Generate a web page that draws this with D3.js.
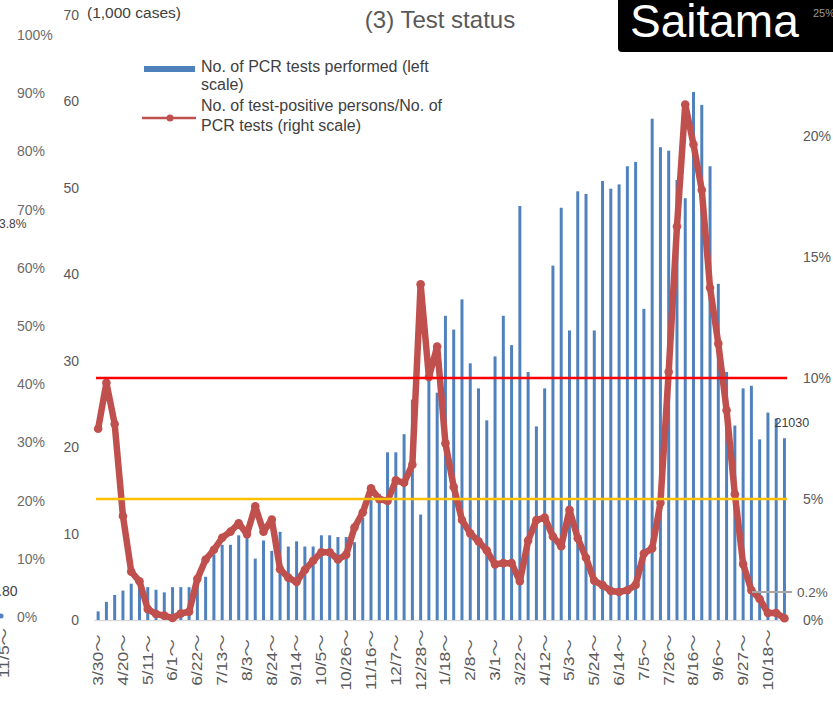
<!DOCTYPE html>
<html>
<head>
<meta charset="utf-8">
<script src="https://cdn.jsdelivr.net/npm/d3@7/dist/d3.min.js"></script>
<style>
    body { margin: 0; background: #ffffff; }
    #chart { width: 833px; height: 703px; }
    text { font-family: "Liberation Sans", Arial, "Noto Sans CJK JP", sans-serif; }
</style>
</head>
<body>
<div id="chart"></div>
<script>

// week start dates (Mon), 2020/3/30 - 2021/11/1
const weeks = [
    "3/30","4/6","4/13","4/20","4/27","5/4","5/11","5/18","5/25","6/1",
    "6/8","6/15","6/22","6/29","7/6","7/13","7/20","7/27","8/3","8/10",
    "8/17","8/24","8/31","9/7","9/14","9/21","9/28","10/5","10/12","10/19",
    "10/26","11/2","11/9","11/16","11/23","11/30","12/7","12/14","12/21","12/28",
    "1/4 ","1/11 ","1/18 ","1/25 ","2/1 ","2/8 ","2/15 ","2/22 ","3/1 ","3/8 ",
    "3/15 ","3/22 ","3/29 ","4/5 ","4/12 ","4/19 ","4/26 ","5/3 ","5/10 ","5/17 ",
    "5/24 ","5/31 ","6/7 ","6/14 ","6/21 ","6/28 ","7/5 ","7/12 ","7/19 ","7/26 ",
    "8/2 ","8/9 ","8/16 ","8/23 ","8/30 ","9/6 ","9/13 ","9/20 ","9/27 ","10/4 ",
    "10/11 ","10/18 ","10/25 ","11/1 "
];

// labelled weeks on the x axis
const tickWeeks = [
    "3/30","4/20","5/11","6/1","6/22","7/13","8/3","8/24","9/14","10/5",
    "10/26","11/16","12/7","12/28","1/18 ","2/8 ","3/1 ","3/22 ","4/12 ","5/3 ",
    "5/24 ","6/14 ","7/5 ","7/26 ","8/16 ","9/6 ","9/27 ","10/18 "
];

// PCR tests performed (1,000 cases)
const testsPerformed = [
    1.0, 2.1, 2.9, 3.4, 4.2, 4.1, 3.8, 3.5, 3.2, 3.8,
    3.8, 3.8, 4.0, 5.0, 7.6, 8.7, 8.7, 9.8, 9.9, 7.1,
    9.2, 8.0, 10.2, 8.5, 9.1, 8.5, 8.5, 9.8, 9.8, 9.6,
    9.6, 9.0, 11.8, 14.2, 14.6, 19.4, 19.4, 21.5, 25.5, 12.2,
    28.0, 26.3, 35.2, 33.6, 37.1, 29.7, 26.8, 23.1, 30.5, 35.2,
    31.8, 47.9, 28.7, 22.4, 26.8, 41.0, 47.7, 33.5, 49.6, 49.3,
    33.5, 50.8, 49.9, 50.4, 52.5, 53.0, 36.0, 58.0, 54.7, 54.3,
    50.9, 48.8, 61.1, 59.6, 52.5, 38.9, 28.7, 22.5, 26.8, 27.1,
    20.9, 24.0, 23.3, 21.03
];

// test-positive persons / PCR tests (%)
const positiveRate = [
    7.9, 9.8, 8.1, 4.3, 2.0, 1.6, 0.45, 0.25, 0.18, 0.08,
    0.27, 0.34, 1.7, 2.5, 2.9, 3.4, 3.65, 4.0, 3.55, 4.7,
    3.65, 4.15, 2.1, 1.75, 1.57, 2.07, 2.45, 2.8, 2.8, 2.5,
    2.7, 3.82, 4.44, 5.44, 4.99, 4.92, 5.77, 5.67, 6.42, 13.87,
    10.04, 11.3, 7.3, 5.5, 4.13, 3.58, 3.25, 2.87, 2.3, 2.35,
    2.35, 1.6, 3.28, 4.13, 4.23, 3.45, 3.05, 4.55, 3.38, 2.57,
    1.62, 1.44, 1.2, 1.16, 1.23, 1.45, 2.75, 2.96, 4.84, 10.26,
    16.26, 21.3, 19.65, 17.77, 13.73, 11.42, 8.67, 5.2, 2.31, 1.23,
    0.87, 0.29, 0.29, 0.07
];

const leftTicks = [0, 10, 20, 30, 40, 50, 60, 70];
const rightTicks = [0, 5, 10, 15, 20, 25];
const thresholdLevels = [5, 10];           // % lines
const thresholdColors = ["#ffc000", "#ff0000"];
const neighbourTicks = [0, 10, 20, 30, 40, 50, 60, 70, 80, 90, 100];  // cut-off axis of the chart on the left

const legendLabels = [
    ["No. of PCR tests performed (left", "scale)"],
    ["No. of test-positive persons/No. of", "PCR tests (right scale)"]
];


class TestChart {

    constructor(parentElement) {
        this.parentElement = parentElement;
        this.barColor = "#4f81bd";
        this.lineColor = "#c0504d";
        this.initVis();
    }

    initVis() {
        let vis = this;

        vis.width = 833;
        vis.height = 703;

        vis.svg = d3.select("#" + vis.parentElement).append("svg")
            .attr("width", vis.width)
            .attr("height", vis.height);

        // scales
        vis.x = d3.scaleBand()
            .domain(weeks)
            .range([94, 788.6])
            .paddingInner(0.64)
            .paddingOuter(0.32);

        vis.y = d3.scaleLinear().domain([0, 70]).range([620, 15]);
        vis.yRight = d3.scaleLinear().domain([0, 25]).range([620, 15]);
        vis.yNeighbour = d3.scaleLinear().domain([0, 100]).range([617, 35]);

        // bits of the neighbouring chart cut off on the left
        let nb = vis.svg.append("g").attr("class", "neighbour");
        nb.selectAll("text.nb-tick")
            .data(neighbourTicks)
            .enter().append("text")
            .attr("class", "nb-tick")
            .attr("x", 17)
            .attr("y", d => vis.yNeighbour(d))
            .attr("dy", "0.35em")
            .attr("font-size", 14)
            .attr("fill", "#6b6b6b")
            .text(d => d + "%");
        nb.append("text").attr("x", -1).attr("y", 228).attr("font-size", 12).attr("fill", "#404040").text("3.8%");
        nb.append("text").attr("x", -2).attr("y", 596).attr("font-size", 14).attr("fill", "#404040").text(".80");
        nb.append("circle").attr("cx", 1).attr("cy", 616).attr("r", 2.5).attr("fill", "#4f81bd");
        nb.append("text")
            .attr("transform", "translate(9,653) rotate(-90) scale(1.25,1)")
            .attr("text-anchor", "middle")
            .attr("font-size", 14)
            .attr("fill", "#595959")
            .text("11/5～");

        // axes
        vis.leftAxis = d3.axisLeft(vis.y).tickValues(leftTicks).tickSize(0).tickPadding(0);
        vis.svg.append("g")
            .attr("class", "axis axis-left")
            .attr("transform", "translate(79,0)")
            .call(vis.leftAxis)
            .call(g => g.select(".domain").remove())
            .selectAll("text")
            .attr("font-size", 14)
            .attr("fill", "#595959");

        vis.rightAxis = d3.axisRight(vis.yRight).tickValues(rightTicks).tickSize(0).tickPadding(0)
            .tickFormat(d => d + "%");
        vis.svg.append("g")
            .attr("class", "axis axis-right")
            .attr("transform", "translate(803,0)")
            .call(vis.rightAxis)
            .call(g => g.select(".domain").remove())
            .selectAll("text")
            .attr("font-size", 14)
            .attr("fill", "#595959");

        vis.xAxis = d3.axisBottom(vis.x).tickValues(tickWeeks).tickSize(0).tickSizeOuter(0);
        vis.svg.append("g")
            .attr("class", "axis axis-x")
            .attr("transform", "translate(0,620)")
            .call(vis.xAxis)
            .call(g => g.select(".domain").attr("stroke", "#d9d9d9").attr("stroke-width", 1.5))
            .selectAll("text")
            .attr("y", 0)
            .attr("dy", "0.35em")
            .attr("transform", "translate(0,40) rotate(-90) scale(1.25,1)")
            .attr("text-anchor", "middle")
            .attr("font-size", 14)
            .attr("fill", "#595959")
            .text(d => d.trim() + "～");

        // unit + title
        vis.svg.append("text")
            .attr("x", 87).attr("y", 18)
            .attr("font-size", 15.5)
            .attr("fill", "#404040")
            .text("(1,000 cases)");

        vis.svg.append("text")
            .attr("x", 440).attr("y", 28)
            .attr("text-anchor", "middle")
            .attr("font-size", 24)
            .attr("fill", "#595959")
            .text("(3) Test status");

        // legend
        vis.legend = vis.svg.append("g").attr("class", "legend");
        vis.legend.append("rect")
            .attr("x", 144).attr("y", 66).attr("width", 51).attr("height", 6)
            .attr("fill", vis.barColor);
        vis.legend.append("line")
            .attr("x1", 142).attr("x2", 196).attr("y1", 118).attr("y2", 118)
            .attr("stroke", vis.lineColor).attr("stroke-width", 2.5);
        vis.legend.append("circle")
            .attr("cx", 170).attr("cy", 118).attr("r", 3.5)
            .attr("fill", vis.lineColor);

        let legendRows = [72, 90, 111, 131];
        legendLabels.flat().forEach((t, i) => {
            vis.legend.append("text")
                .attr("x", 201).attr("y", legendRows[i])
                .attr("font-size", 16)
                .attr("fill", "#404040")
                .text(t);
        });

        vis.barGroup = vis.svg.append("g").attr("class", "bars");
        vis.lineGroup = vis.svg.append("g").attr("class", "rate-line");
        vis.overlay = vis.svg.append("g").attr("class", "overlay");

        this.wrangleData();
    }

    wrangleData() {
        let vis = this;

        vis.displayData = weeks.map((w, i) => ({
            week: w,
            tests: testsPerformed[i],
            rate: positiveRate[i]
        }));

        vis.updateVis();
    }

    updateVis() {
        let vis = this;
        let cx = d => vis.x(d.week) + vis.x.bandwidth() / 2;

        // bars
        vis.barGroup.selectAll(".bar")
            .data(vis.displayData)
            .enter().append("rect")
            .attr("class", "bar")
            .attr("x", d => vis.x(d.week))
            .attr("width", vis.x.bandwidth())
            .attr("y", d => vis.y(d.tests))
            .attr("height", d => vis.y(0) - vis.y(d.tests))
            .attr("fill", vis.barColor);

        // positivity line
        let line = d3.line()
            .x(cx)
            .y(d => vis.yRight(d.rate));

        vis.lineGroup.append("path")
            .datum(vis.displayData)
            .attr("fill", "none")
            .attr("stroke", vis.lineColor)
            .attr("stroke-width", 6.5)
            .attr("stroke-linejoin", "round")
            .attr("stroke-linecap", "round")
            .attr("d", line);

        vis.lineGroup.selectAll(".dot")
            .data(vis.displayData)
            .enter().append("circle")
            .attr("class", "dot")
            .attr("cx", cx)
            .attr("cy", d => vis.yRight(d.rate))
            .attr("r", 4.3)
            .attr("fill", vis.lineColor);

        // 5% / 10% guide lines
        vis.overlay.selectAll(".threshold")
            .data(thresholdLevels)
            .enter().append("line")
            .attr("class", "threshold")
            .attr("x1", 96).attr("x2", 787)
            .attr("y1", d => vis.yRight(d))
            .attr("y2", d => vis.yRight(d))
            .attr("stroke", (d, i) => thresholdColors[i])
            .attr("stroke-width", 2.5);

        // data labels
        let last = vis.displayData[vis.displayData.length - 1];
        vis.overlay.append("text")
            .attr("x", cx(last) - 10).attr("y", vis.y(last.tests) - 11)
            .attr("font-size", 12.5)
            .attr("fill", "#404040")
            .text(d3.format("d")(last.tests * 1000));

        vis.overlay.append("line")
            .attr("x1", 752).attr("x2", 792)
            .attr("y1", 592).attr("y2", 592)
            .attr("stroke", "#a6a6a6").attr("stroke-width", 2);
        vis.overlay.append("text")
            .attr("x", 797).attr("y", 597)
            .attr("font-size", 13.5)
            .attr("fill", "#595959")
            .text("0.2%");

        // prefecture badge
        vis.overlay.append("rect")
            .attr("x", 618).attr("y", -6).attr("width", 222).attr("height", 58)
            .attr("rx", 4)
            .attr("fill", "#000000");
        vis.overlay.append("text")
            .attr("x", 630).attr("y", 37)
            .attr("font-size", 46)
            .attr("fill", "#ffffff")
            .text("Saitama");
        vis.overlay.append("text")
            .attr("x", 813).attr("y", 17)
            .attr("font-size", 11)
            .attr("fill", "#9a9a9a")
            .text("25%");
    }
}

new TestChart("chart");

</script>
</body>
</html>
